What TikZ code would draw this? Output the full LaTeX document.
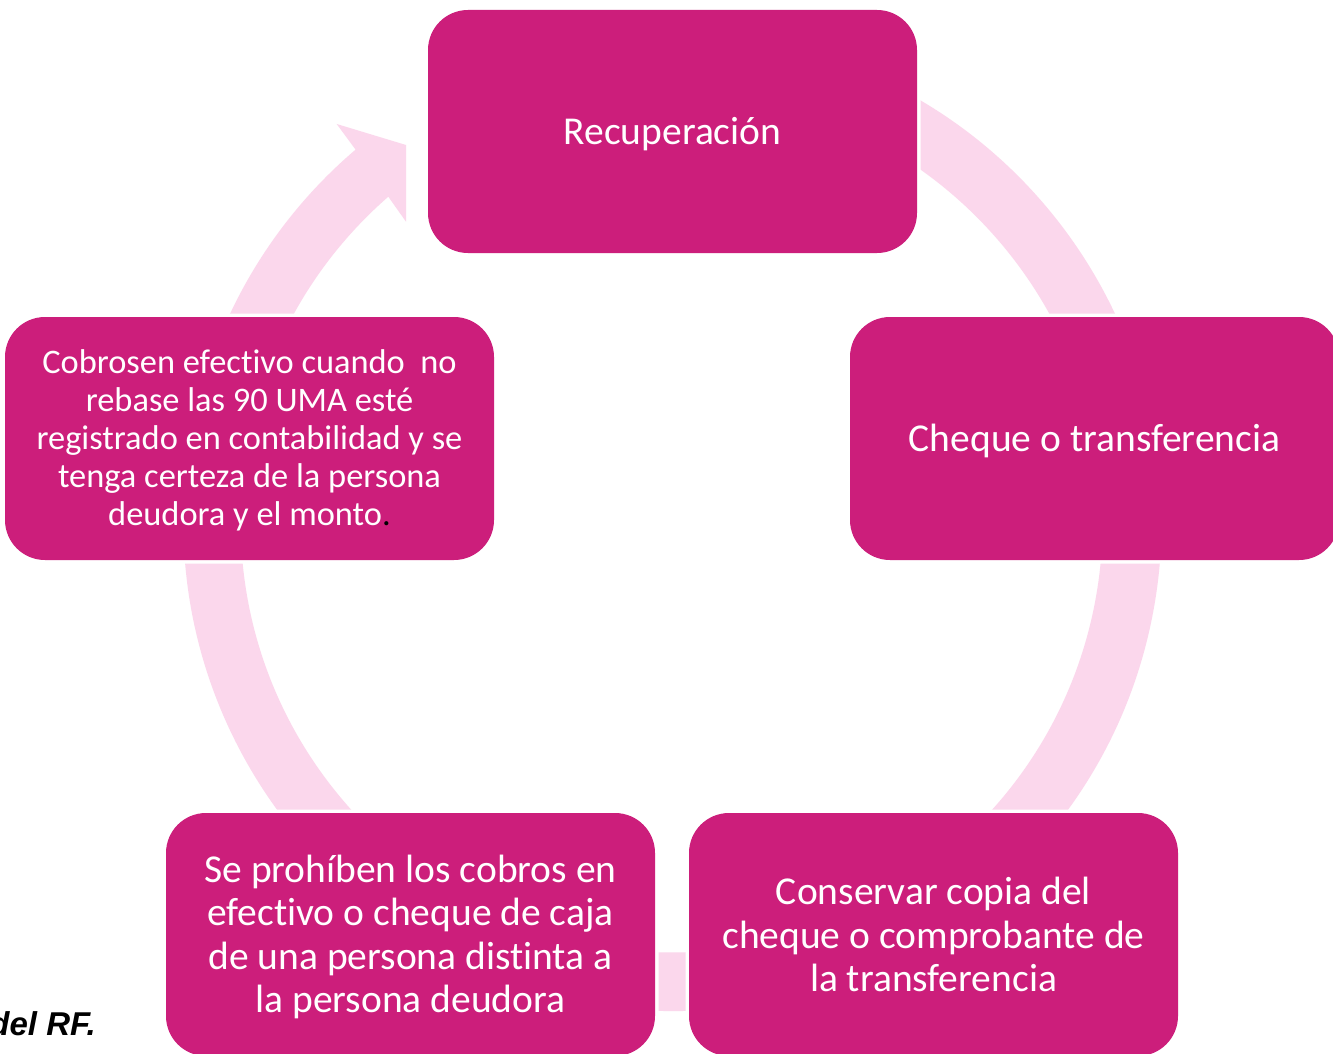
\documentclass[tikz,border=0pt]{standalone}
\usepackage{fontspec}
\setmainfont{Carlito}[Ligatures={NoCommon}]
\newfontfamily\arialf{Liberation Sans}
\definecolor{mag}{RGB}{204,30,123}
\definecolor{ringc}{RGB}{251,215,236}
\begin{document}
\begin{tikzpicture}[x=1pt,y=1pt,
  box/.style={rounded corners=40pt, fill=mag, preaction={draw=white,line width=7pt},
    minimum width=489pt, minimum height=243pt, inner sep=0pt},
  txt/.style={inner sep=0pt, text=white, align=center, font=\fontsize{39.5}{43.5}\selectfont}]
\useasboundingbox (0,0) rectangle (1333,-1054);
\clip (0,0) rectangle (1333,-1054);
\fill[white] (0,0) rectangle (1333,-1054);
\coordinate (C) at (672.5,-522);
% ring with arrowhead
\fill[ringc] (C) ++(80:489pt) arc[start angle=80, end angle=-229.6, radius=489pt]
  -- (336.7,-124) -- (406,-145) -- (406,-221.7) -- (388.3,-196.7)
  arc[start angle=-228.9, end angle=80, radius=431pt] -- cycle;
% boxes
\node[box] (rec) at (672.5,-131.5) {};
\node[box] (che) at (1094.5,-438.5) {};
\node[box] (con) at (933.5,-934.5) {};
\node[box] (pro) at (410.5,-934.5) {};
\node[box] (cob) at (249.5,-438.5) {};
% texts
\node[txt] (rec-t) at ([yshift=-3pt]rec.center) {Recuperación};
\node[txt] (che-t) at ([yshift=-2pt]che.center) {Cheque o transferencia};
\node[txt] (con-t) at (con.center) {Conservar copia del\\cheque o comprobante de\\la transferencia};
\node[txt] (pro-t) at ([yshift=-2.5pt]pro.center) {Se prohíben los cobros en\\efectivo o cheque de caja\\de una persona distinta a\\la persona deudora};
\node[txt, font=\fontsize{34.4}{38}\selectfont] (cob-t) at ([yshift=-2pt]cob.center)
  {Cobrosen efectivo cuando\ \ no\\rebase las 90 UMA esté\\registrado en contabilidad y se\\tenga certeza de la persona\\deudora y el monto{\color{black}.}};
\node[anchor=base east, inner sep=0pt, font=\arialf\bfseries\itshape\fontsize{33}{37}\selectfont] (rf) at (96,-1035) {del RF.};
\end{tikzpicture}
\end{document}
